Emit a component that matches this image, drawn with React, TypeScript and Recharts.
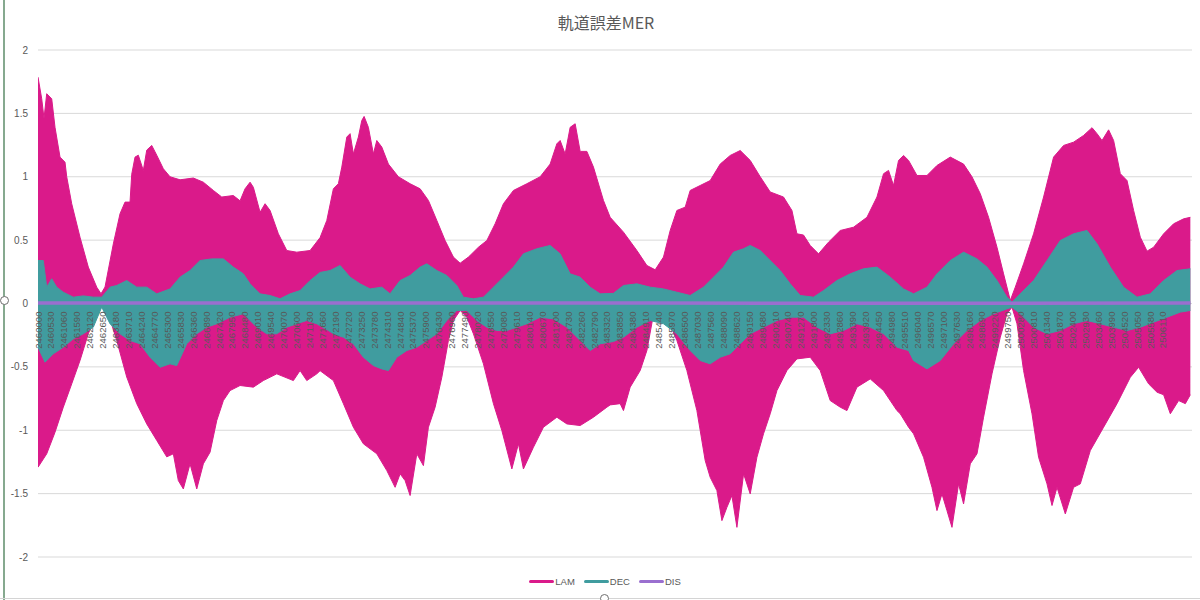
import React from 'react';
import { ComposedChart, Area, Line, XAxis, YAxis, CartesianGrid, Legend } from 'recharts';

// ---------- data ----------
const JD0 = 2460000;
const X_MAX = 2507300;

const xTickLabels = [
  2460000, 2460530, 2461060, 2461590, 2462120, 2462650, 2463180, 2463710, 2464240, 2464770,
  2465300, 2465830, 2466360, 2466890, 2467420, 2467950, 2468480, 2469010, 2469540, 2470070,
  2470600, 2471130, 2471660, 2472190, 2472720, 2473250, 2473780, 2474310, 2474840, 2475370,
  2475900, 2476430, 2476960, 2477490, 2478020, 2478550, 2479080, 2479610, 2480140, 2480670,
  2481200, 2481730, 2482260, 2482790, 2483320, 2483850, 2484380, 2484910, 2485440, 2485970,
  2486500, 2487030, 2487560, 2488090, 2488620, 2489150, 2489680, 2490210, 2490740, 2491270,
  2491800, 2492330, 2492860, 2493390, 2493920, 2494450, 2494980, 2495510, 2496040, 2496570,
  2497100, 2497630, 2498160, 2498690, 2499220, 2499750, 2500280, 2500810, 2501340, 2501870,
  2502400, 2502930, 2503460, 2503990, 2504520, 2505050, 2505580, 2506110,
];
const yTicks = [-2, -1.5, -1, -0.5, 0, 0.5, 1, 1.5, 2];

// LAM upper envelope (day offset from JD0, value)
const lamHiDay = [
  0, 152, 246, 357, 562, 697, 902, 1107, 1177, 1382,
  1722, 2062, 2407, 2583, 2747, 3087, 3362, 3567, 3772, 3842,
  3977, 4112, 4317, 4457, 4662, 4867, 5137, 5412, 5822, 6367,
  6777, 7187, 7532, 8007, 8282, 8487, 8692, 8827, 9102, 9307,
  9512, 9852, 10197, 10607, 11152, 11562, 11837, 12107, 12312, 12452,
  12657, 12792, 12927, 13132, 13272, 13366, 13542, 13747, 13887, 14092,
  14362, 14772, 15252, 15662, 16002, 16347, 16687, 17027, 17302, 17642,
  18052, 18397, 18737, 19077, 19487, 20037, 20582, 20992, 21267, 21402,
  21607, 21812, 22017, 22222, 22497, 22767, 23177, 23452, 23997, 24547,
  24957, 25297, 25637, 25912, 26187, 26527, 26732, 27142, 27552, 27962,
  28372, 28782, 29192, 29602, 30012, 30557, 30902, 31107, 31377, 31652,
  31992, 32402, 32882, 33427, 33977, 34387, 34657, 34862, 35067, 35272,
  35477, 35682, 36027, 36437, 36847, 37392, 37937, 38282, 38622, 38962,
  39307, 39577, 39852, 40057, 40397, 40807, 41217, 41627, 42037, 42447,
  42857, 43202, 43407, 43612, 43882, 44087, 44362, 44637, 44907, 45182,
  45457, 45727, 46137, 46547, 46957, 47232,
];
const lamHi = [
  1.786, 1.615, 1.46, 1.655, 1.615, 1.39, 1.155, 1.115, 1.0, 0.787,
  0.523, 0.287, 0.129, 0.077, 0.13, 0.47, 0.708, 0.8, 0.8, 1.02,
  1.155, 1.17, 1.05, 1.21, 1.247, 1.17, 1.063, 1.0, 0.976, 0.99,
  0.957, 0.892, 0.84, 0.852, 0.81, 0.905, 0.957, 0.917, 0.72, 0.787,
  0.734, 0.55, 0.418, 0.405, 0.418, 0.52, 0.655, 0.905, 0.945, 1.076,
  1.313, 1.34, 1.18, 1.313, 1.444, 1.476, 1.39, 1.18, 1.286, 1.234,
  1.1, 1.0, 0.945, 0.905, 0.813, 0.655, 0.497, 0.366, 0.318, 0.366,
  0.444, 0.497, 0.629, 0.787, 0.892, 0.945, 1.0, 1.1, 1.26, 1.286,
  1.18, 1.39, 1.418, 1.2, 1.2, 1.076, 0.813, 0.68, 0.563, 0.418,
  0.3, 0.266, 0.366, 0.576, 0.734, 0.76, 0.892, 0.931, 0.97, 1.1,
  1.168, 1.207, 1.129, 1.0, 0.88, 0.84, 0.734, 0.55, 0.54, 0.458,
  0.392, 0.484, 0.576, 0.602, 0.68, 0.84, 1.024, 1.05, 0.931, 1.129,
  1.168, 1.129, 1.01, 1.01, 1.089, 1.155, 1.1, 1.0, 0.866, 0.68,
  0.444, 0.234, 0.024, 0.129, 0.313, 0.55, 0.84, 1.155, 1.247, 1.273,
  1.326, 1.387, 1.34, 1.286, 1.37, 1.286, 1.024, 0.97, 0.734, 0.523,
  0.413, 0.444, 0.55, 0.629, 0.668, 0.68,
];

// LAM lower envelope
const lamLoDay = [
  0, 357, 697, 1037, 1382, 1722, 2062, 2407, 2612, 2882,
  3227, 3637, 4047, 4457, 4867, 5277, 5547, 5752, 5957, 6232,
  6507, 6777, 7052, 7327, 7597, 7872, 8282, 8827, 9237, 9787,
  10467, 10742, 11017, 11427, 11562, 12107, 12517, 12927, 13337, 13887,
  14297, 14637, 14842, 15047, 15252, 15527, 15797, 16002, 16277, 16552,
  16822, 17027, 17302, 17577, 17847, 18257, 18667, 19012, 19422, 19692,
  19897, 20307, 20717, 21267, 21677, 22222, 22767, 23317, 23452, 23862,
  23997, 24272, 24682, 24957, 25232, 25437, 25777, 26187, 26597, 27007,
  27347, 27552, 27827, 28032, 28237, 28442, 28647, 28920, 29192, 29467,
  29737, 30012, 30287, 30697, 31107, 31652, 32062, 32472, 32882, 33157,
  33567, 34112, 34657, 35207, 35342, 35682, 35887, 36297, 36642, 36847,
  37052, 37257, 37462, 37732, 37937, 38212, 38487, 38757, 39102, 39442,
  39717, 39922, 40127, 40397, 40742, 41012, 41357, 41562, 41767, 42107,
  42447, 42722, 43132, 43677, 44227, 44772, 45112, 45522, 45867, 46137,
  46412, 46752, 47027, 47232,
];
const lamLo = [
  -1.292, -1.186, -1.016, -0.818, -0.634, -0.45, -0.239, -0.081, -0.016, -0.081,
  -0.292, -0.58, -0.79, -0.95, -1.08, -1.21, -1.186, -1.397, -1.463, -1.265,
  -1.463, -1.265, -1.173, -0.923, -0.766, -0.687, -0.647, -0.66, -0.608, -0.555,
  -0.608, -0.529, -0.608, -0.555, -0.53, -0.608, -0.79, -0.976, -1.107, -1.186,
  -1.318, -1.45, -1.344, -1.397, -1.515, -1.186, -1.279, -0.976, -0.818, -0.582,
  -0.292, -0.134, -0.055, -0.108, -0.239, -0.476, -0.79, -1.002, -1.305, -1.107,
  -1.305, -1.134, -0.976, -0.897, -0.95, -0.963, -0.897, -0.818, -0.8, -0.79,
  -0.845, -0.66, -0.529, -0.371, -0.081, -0.029, -0.108, -0.292, -0.529, -0.845,
  -1.239, -1.371, -1.476, -1.713, -1.608, -1.515, -1.766, -1.344, -1.502, -1.213,
  -1.028, -0.87, -0.687, -0.529, -0.437, -0.424, -0.529, -0.766, -0.818, -0.845,
  -0.66, -0.595, -0.687, -0.845, -0.87, -0.976, -1.028, -1.213, -1.45, -1.634,
  -1.502, -1.634, -1.766, -1.423, -1.581, -1.265, -1.186, -0.897, -0.555, -0.266,
  -0.081, -0.029, -0.16, -0.529, -0.87, -1.213, -1.423, -1.594, -1.45, -1.66,
  -1.45, -1.423, -1.16, -0.976, -0.79, -0.582, -0.503, -0.634, -0.7, -0.72,
  -0.87, -0.766, -0.79, -0.72,
];

// DEC upper envelope
const decHiDay = [
  0, 217, 357, 562, 767, 1037, 1447, 1857, 2267, 2612,
  2952, 3227, 3637, 4047, 4457, 4867, 5412, 5822, 6232, 6642,
  7122, 7597, 8007, 8417, 8692, 9102, 9512, 9922, 10332, 10742,
  11152, 11562, 11972, 12382, 12792, 13202, 13612, 14092, 14432, 14842,
  15252, 15662, 15937, 16347, 16757, 17167, 17437, 17847, 18257, 18667,
  19077, 19487, 19897, 20447, 20992, 21402, 21812, 22222, 22632, 23042,
  23587, 23997, 24547, 25092, 25637, 26187, 26732, 27277, 27687, 28097,
  28507, 28917, 29192, 29602, 30012, 30422, 30832, 31242, 31787, 32197,
  32747, 33292, 33837, 34387, 34932, 35477, 35887, 36437, 36847, 37392,
  37937, 38487, 38897, 39307, 39717, 39922, 40262, 40807, 41357, 41902,
  42447, 42997, 43407, 43952, 44497, 45047, 45592, 46137, 46687, 47232,
];
const decHi = [
  0.339, 0.339, 0.129, 0.195, 0.129, 0.089, 0.05, 0.06, 0.05, 0.05,
  0.129, 0.142, 0.181, 0.129, 0.129, 0.076, 0.115, 0.208, 0.26, 0.339,
  0.352, 0.352, 0.287, 0.234, 0.155, 0.076, 0.063, 0.037, 0.076, 0.102,
  0.181, 0.245, 0.26, 0.3, 0.208, 0.155, 0.115, 0.129, 0.076, 0.181,
  0.221, 0.287, 0.313, 0.26, 0.221, 0.142, 0.05, 0.037, 0.05, 0.129,
  0.208, 0.287, 0.392, 0.432, 0.458, 0.392, 0.234, 0.208, 0.129, 0.076,
  0.08, 0.142, 0.155, 0.129, 0.115, 0.089, 0.063, 0.129, 0.208, 0.287,
  0.405, 0.432, 0.458, 0.418, 0.339, 0.26, 0.155, 0.063, 0.05, 0.102,
  0.181, 0.234, 0.274, 0.287, 0.208, 0.115, 0.076, 0.129, 0.234, 0.339,
  0.405, 0.352, 0.287, 0.181, 0.05, 0.01, 0.076, 0.181, 0.339, 0.497,
  0.55, 0.576, 0.471, 0.287, 0.129, 0.05, 0.076, 0.181, 0.26, 0.274,
];

// DEC lower envelope
const decLoDay = [
  0, 287, 627, 1037, 1447, 1857, 2267, 2612, 2952, 3362,
  3772, 4182, 4592, 5002, 5412, 5687, 6097, 6507, 6917, 7327,
  7872, 8417, 8967, 9377, 9787, 10197, 10607, 11017, 11427, 11902,
  12107, 12517, 12927, 13337, 13747, 14092, 14362, 14707, 15117, 15527,
  15937, 16347, 16757, 17167, 17577, 17987, 18397, 18807, 19217, 19627,
  20037, 20582, 21127, 21677, 22222, 22632, 23042, 23587, 23997, 24547,
  25092, 25637, 26187, 26732, 27142, 27552, 27962, 28372, 28782, 29192,
  29737, 30287, 30832, 31377, 31927, 32472, 33017, 33567, 34112, 34657,
  35207, 35682, 35887, 36437, 36982, 37527, 38077, 38622, 39167, 39717,
  39922, 40262, 40807, 41357, 41902, 42447, 42997, 43542, 44087, 44637,
  45182, 45727, 46277, 46822, 47232,
];
const decLo = [
  -0.345, -0.463, -0.397, -0.345, -0.279, -0.239, -0.187, -0.029, -0.16, -0.239,
  -0.292, -0.318, -0.424, -0.503, -0.476, -0.49, -0.318, -0.239, -0.187, -0.16,
  -0.108, -0.081, -0.187, -0.239, -0.239, -0.187, -0.16, -0.134, -0.16, -0.213,
  -0.239, -0.266, -0.318, -0.424, -0.49, -0.516, -0.529, -0.424, -0.371, -0.345,
  -0.292, -0.239, -0.134, -0.055, -0.055, -0.134, -0.187, -0.213, -0.213, -0.187,
  -0.16, -0.108, -0.121, -0.187, -0.292, -0.371, -0.318, -0.3, -0.266, -0.187,
  -0.134, -0.16, -0.239, -0.371, -0.45, -0.476, -0.424, -0.397, -0.318, -0.239,
  -0.187, -0.134, -0.108, -0.108, -0.187, -0.239, -0.213, -0.16, -0.187, -0.239,
  -0.345, -0.371, -0.45, -0.516, -0.45, -0.318, -0.213, -0.134, -0.081, -0.042,
  -0.029, -0.081, -0.187, -0.239, -0.213, -0.16, -0.134, -0.16, -0.187, -0.213,
  -0.187, -0.147, -0.108, -0.068, -0.055,
];

// DIS (stays at about zero)
const disDay = [0, 8282, 17302, 25437, 39922, 47232];
const dis = [0.004, 0.003, 0.004, 0.003, 0.002, 0.004];

const legendItems = [
  { name: 'LAM', color: '#DA1A8A' },
  { name: 'DEC', color: '#409C9F' },
  { name: 'DIS', color: '#9A6FCF' },
];

// ---------- layout ----------
const W = 1200;
const H = 600;
const MARGIN = { top: 50, right: 8, left: 8, bottom: 9 };
const X_AXIS_H = 1;
const Y_AXIS_W = 30;
const LEGEND_H = 33;
const PLOT_TOP = MARGIN.top;
const PLOT_BOTTOM = H - MARGIN.bottom - X_AXIS_H - LEGEND_H;
const Y_MIN = -2;
const Y_MAX = 2;
const ZERO_Y = PLOT_TOP + ((PLOT_BOTTOM - PLOT_TOP) * Y_MAX) / (Y_MAX - Y_MIN);
const TEXT = '#595959';
const FONT = '"Liberation Sans", Arial, sans-serif';

const toRows = (days: number[], vals: number[]) =>
  days.map((d, i) => ({ x: JD0 + d, v: vals[i] }));

const lamHiRows = toRows(lamHiDay, lamHi);
const lamLoRows = toRows(lamLoDay, lamLo);
const decHiRows = toRows(decHiDay, decHi);
const decLoRows = toRows(decLoDay, decLo);
const disRows = toRows(disDay, dis);

const XTick = (props: any) => {
  const { x, payload } = props;
  const ty = ZERO_Y + 8;
  return (
    <text
      x={x}
      y={ty}
      transform={`rotate(-90 ${x} ${ty})`}
      textAnchor="end"
      dominantBaseline="central"
      fill={TEXT}
      fontSize={9.6}
      fontFamily={FONT}
    >
      {String(payload.value)}
    </text>
  );
};

const LegendContent = () => (
  <div
    style={{
      height: LEGEND_H,
      boxSizing: 'border-box',
      paddingTop: 14,
      paddingLeft: 10,
      display: 'flex',
      justifyContent: 'center',
      alignItems: 'center',
      gap: 9,
      fontFamily: FONT,
    }}
  >
    {legendItems.map((s) => (
      <div key={s.name} style={{ display: 'flex', alignItems: 'center' }}>
        <span
          style={{ display: 'inline-block', width: 25, height: 3, background: s.color, borderRadius: 1.5 }}
        />
        <span style={{ marginLeft: 1, fontSize: 9.5, color: TEXT, lineHeight: '14px' }}>{s.name}</span>
      </div>
    ))}
  </div>
);

export default function App() {
  const [lam, dec, disC] = legendItems;
  return (
    <div
      style={{
        position: 'absolute',
        left: 0,
        top: 0,
        width: W,
        height: H,
        background: '#ffffff',
        fontFamily: FONT,
        overflow: 'hidden',
      }}
    >
      <div
        style={{
          position: 'absolute',
          top: 11,
          left: 6,
          width: W,
          textAlign: 'center',
          fontSize: 16,
          lineHeight: '22px',
          color: TEXT,
          fontFamily: '"Noto Sans CJK JP", "Noto Sans", sans-serif',
        }}
      >
        軌道誤差MER
      </div>

      <ComposedChart width={W} height={H} margin={MARGIN}>
        <CartesianGrid vertical={false} stroke="#d9d9d9" strokeWidth={1} />
        <YAxis
          type="number"
          domain={[Y_MIN, Y_MAX]}
          ticks={yTicks}
          width={Y_AXIS_W}
          tickLine={false}
          axisLine={false}
          tickMargin={4}
          tick={{ fill: TEXT, fontSize: 10, fontFamily: FONT }}
          interval={0}
        />
        <Area
          data={lamHiRows}
          dataKey="v"
          type="linear"
          baseValue={0}
          stroke={lam.color}
          strokeWidth={1}
          fill={lam.color}
          fillOpacity={1}
          dot={false}
          activeDot={false}
          isAnimationActive={false}
          name="LAM"
        />
        <Area
          data={lamLoRows}
          dataKey="v"
          type="linear"
          baseValue={0}
          stroke={lam.color}
          strokeWidth={1}
          fill={lam.color}
          fillOpacity={1}
          dot={false}
          activeDot={false}
          isAnimationActive={false}
          legendType="none"
          name="LAM-"
        />
        <Area
          data={decHiRows}
          dataKey="v"
          type="linear"
          baseValue={0}
          stroke={dec.color}
          strokeWidth={1}
          fill={dec.color}
          fillOpacity={1}
          dot={false}
          activeDot={false}
          isAnimationActive={false}
          name="DEC"
        />
        <Area
          data={decLoRows}
          dataKey="v"
          type="linear"
          baseValue={0}
          stroke={dec.color}
          strokeWidth={1}
          fill={dec.color}
          fillOpacity={1}
          dot={false}
          activeDot={false}
          isAnimationActive={false}
          legendType="none"
          name="DEC-"
        />
        <Line
          data={disRows}
          dataKey="v"
          type="linear"
          stroke={disC.color}
          strokeWidth={3.5}
          dot={false}
          activeDot={false}
          isAnimationActive={false}
          name="DIS"
        />
        <XAxis
          type="number"
          dataKey="x"
          domain={[JD0, X_MAX]}
          ticks={xTickLabels}
          interval={0}
          height={X_AXIS_H}
          tickLine={false}
          axisLine={false}
          allowDataOverflow
          tick={(p: any) => <XTick {...p} />}
        />
        <Legend verticalAlign="bottom" content={() => <LegendContent />} />
      </ComposedChart>

      {/* chart frame decorations */}
      <div style={{ position: 'absolute', left: 3, top: 0, width: 2, height: H, background: '#86a98f' }} />
      <div
        style={{
          position: 'absolute',
          left: 0,
          top: 296,
          width: 7,
          height: 7,
          borderRadius: '50%',
          border: '1px solid #6f6f6f',
          background: '#fff',
        }}
      />
      <div style={{ position: 'absolute', left: 0, top: 598, width: W, height: 1, background: '#d4d4d4' }} />
      <div
        style={{
          position: 'absolute',
          left: 600,
          top: 594,
          width: 7,
          height: 7,
          borderRadius: '50%',
          border: '1px solid #6f6f6f',
          background: '#fff',
        }}
      />
    </div>
  );
}
